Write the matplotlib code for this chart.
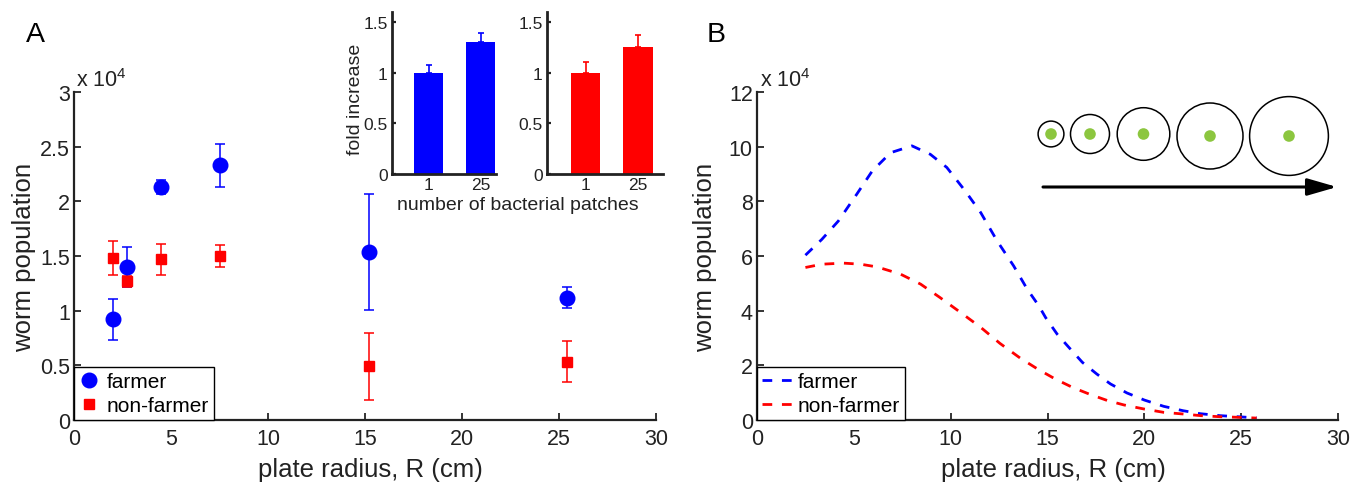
import matplotlib
matplotlib.use("Agg")
import matplotlib.pyplot as plt
from matplotlib.patches import Circle

plt.rcParams['font.family'] = ['Liberation Sans', 'DejaVu Sans']
plt.rcParams['mathtext.default'] = 'regular'

# ================= data (population in units of 1e4) =================
# panel A: measured populations
radius_meas = [2.0, 2.75, 4.5, 7.5, 15.2, 25.4]
farmer_pop = [0.92, 1.40, 2.13, 2.33, 1.54, 1.12]
farmer_err = [0.185, 0.185, 0.065, 0.195, 0.53, 0.10]
nonfarmer_pop = [1.48, 1.27, 1.47, 1.50, 0.49, 0.535]
nonfarmer_err = [0.155, 0.05, 0.14, 0.10, 0.305, 0.19]

# inset: fold increase vs number of bacterial patches
patch_labels = ['1', '25']
farmer_fold = [1.0, 1.3]
farmer_fold_err = [0.08, 0.09]
nonfarmer_fold = [1.0, 1.25]
nonfarmer_fold_err = [0.105, 0.12]

# panel B: model curves
model_r_farmer = [2.5, 3.35, 4.2, 5.15, 5.95, 6.9, 8.0, 8.95, 9.8, 10.75, 11.55,
                  12.4, 13.25, 13.95, 14.55, 14.9, 15.5, 16.1, 16.8, 17.55, 18.25,
                  19.1, 20.0, 21.0, 22.0, 22.9, 23.9, 24.8, 25.8]
model_farmer = [6.03, 6.61, 7.28, 8.26, 9.11, 9.78, 10.03, 9.72, 9.24, 8.38, 7.59,
                6.55, 5.64, 4.79, 4.18, 3.75, 3.14, 2.66, 2.11, 1.68, 1.32,
                0.99, 0.73, 0.50, 0.34, 0.23, 0.16, 0.12, 0.08]
model_r_nonfarmer = [2.5, 3.35, 4.45, 5.35, 6.2, 7.4, 8.45, 9.45, 10.5, 11.55, 12.55,
                     13.6, 14.5, 15.4, 16.3, 17.15, 18.1, 18.95, 20.0, 21.0, 22.0,
                     22.9, 23.9, 24.8, 25.8]
model_nonfarmer = [5.58, 5.70, 5.74, 5.70, 5.60, 5.34, 4.97, 4.48, 3.94, 3.39, 2.80,
                   2.26, 1.86, 1.50, 1.19, 0.95, 0.71, 0.55, 0.40, 0.28, 0.22,
                   0.16, 0.12, 0.10, 0.07]

BLUE = '#0000ff'
RED = '#ff0000'
GREEN = '#8cc63f'
INK = '#222222'
W, H = 1350, 485
TICK_FS = 15.5
LABEL_FS = 18.5


def style_axes(ax, lw=1.6, ticklen=5, fs=TICK_FS, pad_x=6, pad_y=3):
    for s in ['top', 'right']:
        ax.spines[s].set_visible(False)
    for s in ['left', 'bottom']:
        ax.spines[s].set_linewidth(lw)
        ax.spines[s].set_color(INK)
    ax.tick_params(direction='in', length=ticklen, width=lw * 0.8, labelsize=fs,
                   colors=INK, labelcolor=INK)
    ax.tick_params(axis='x', pad=pad_x)
    ax.tick_params(axis='y', pad=pad_y)


def px_axes(fig, x0, y0, x1, y1):
    # axes from a pixel box (origin top-left)
    return fig.add_axes([x0 / W, 1 - y1 / H, (x1 - x0) / W, (y1 - y0) / H])


fig = plt.figure(figsize=(13.5, 4.85), dpi=100)

# ---------------- panel A ----------------
axA = px_axes(fig, 74, 93, 656, 421)
fa = axA.errorbar(radius_meas, farmer_pop, yerr=farmer_err, fmt='o', color=BLUE,
                  ms=10.5, elinewidth=1.1, capsize=3.3, capthick=1.1)
nf = axA.errorbar(radius_meas, nonfarmer_pop, yerr=nonfarmer_err, fmt='s', color=RED,
                  ms=7.5, elinewidth=1.1, capsize=3.3, capthick=1.1)
axA.set_xlim(0, 30)
axA.set_ylim(0, 3)
axA.set_xticks(range(0, 31, 5))
axA.set_yticks([0, 0.5, 1, 1.5, 2, 2.5, 3])
axA.set_yticklabels(['0', '0.5', '1', '1.5', '2', '2.5', '3'])
style_axes(axA)
axA.set_xlabel('plate radius, R (cm)', fontsize=LABEL_FS, color=INK)
axA.set_ylabel('worm population', fontsize=LABEL_FS, color=INK)
axA.xaxis.set_label_coords(0.51, -0.112)
axA.yaxis.set_label_coords(-0.066, 0.5)
axA.annotate('x 10$^4$', xy=(0, 1), xycoords='axes fraction', xytext=(1.5, 4),
             textcoords='offset points', fontsize=TICK_FS, color=INK,
             ha='left', va='baseline')
legA = axA.legend([fa[0], nf[0]], ['farmer', 'non-farmer'], loc='lower left',
                  bbox_to_anchor=(0, 0), borderaxespad=0, fancybox=False,
                  edgecolor='black', framealpha=1, fontsize=15, handlelength=0.9,
                  handletextpad=0.4, labelspacing=0.22, borderpad=0.25)
legA.get_frame().set_linewidth(1.0)

# insets
for (x0, x1, xlim, vals, errs, col) in [
        (392, 496, (0.29, 2.29), farmer_fold, farmer_fold_err, BLUE),
        (547, 663, (0.26, 2.48), nonfarmer_fold, nonfarmer_fold_err, RED)]:
    axi = px_axes(fig, x0, 13, x1, 175)
    pos = [1, 2]
    axi.bar(pos, vals, width=0.56, color=col, zorder=2)
    axi.errorbar(pos, vals, yerr=[[0, 0], errs], fmt='none', ecolor=col,
                 elinewidth=1.2, capsize=2, capthick=1.2, zorder=3)
    axi.set_xlim(*xlim)
    axi.set_ylim(0, 1.6)
    axi.set_xticks(pos)
    axi.set_xticklabels(patch_labels)
    axi.set_yticks([0, 0.5, 1, 1.5])
    axi.set_yticklabels(['0', '0.5', '1', '1.5'])
    style_axes(axi, lw=2.0, ticklen=3, fs=12.5, pad_x=2, pad_y=3)

fig.text(355 / W, 1 - 99 / H, 'fold increase', rotation=90, ha='center',
         va='center', fontsize=14, color=INK)
fig.text(518 / W, 1 - 205 / H, 'number of bacterial patches', ha='center',
         va='center', fontsize=14, color=INK)

# ---------------- panel B ----------------
axB = px_axes(fig, 757, 93, 1338, 421)
axB.plot(model_r_farmer, model_farmer, color=BLUE, lw=2.0, dashes=(3.5, 3.5),
         label='farmer')
axB.plot(model_r_nonfarmer, model_nonfarmer, color=RED, lw=2.0, dashes=(3.5, 3.5),
         label='non-farmer')
axB.set_xlim(0, 30)
axB.set_ylim(0, 12)
axB.set_xticks(range(0, 31, 5))
axB.set_yticks(range(0, 13, 2))
style_axes(axB)
axB.set_xlabel('plate radius, R (cm)', fontsize=LABEL_FS, color=INK)
axB.set_ylabel('worm population', fontsize=LABEL_FS, color=INK)
axB.xaxis.set_label_coords(0.51, -0.112)
axB.yaxis.set_label_coords(-0.069, 0.5)
axB.annotate('x 10$^4$', xy=(0, 1), xycoords='axes fraction', xytext=(2, 4),
             textcoords='offset points', fontsize=TICK_FS, color=INK,
             ha='left', va='baseline')
legB = axB.legend(loc='lower left', bbox_to_anchor=(0, 0), borderaxespad=0,
                  fancybox=False, edgecolor='black', framealpha=1, fontsize=15,
                  handlelength=1.45, handletextpad=0.25, labelspacing=0.22,
                  borderpad=0.25)
legB.get_frame().set_linewidth(1.0)

# illustration: growing plates with a central bacterial patch
axI = px_axes(fig, 1000, 85, 1350, 205)
axI.set_xlim(1000, 1350)
axI.set_ylim(205, 85)
axI.axis('off')
plates = [(1051, 135, 12.9), (1090, 135, 19.5), (1143.5, 135, 26.3),
          (1210, 137, 33), (1289, 137, 39.4)]
for cx, cy, r in plates:
    axI.add_patch(Circle((cx, cy), r, fill=False, ec='black', lw=1.1))
    axI.add_patch(Circle((cx, cy), 5.8, color=GREEN, ec='none'))
axI.annotate('', xy=(1337, 188), xytext=(1043, 188),
             arrowprops=dict(arrowstyle='-|>,head_length=0.9,head_width=0.26',
                             mutation_scale=20, lw=2.2, color='black',
                             shrinkA=0, shrinkB=0))

# panel letters
fig.text(26 / W, 1 - 22 / H, 'A', fontsize=20.5, ha='left', va='top')
fig.text(707 / W, 1 - 22 / H, 'B', fontsize=20.5, ha='left', va='top')

fig.savefig('out.png', dpi=100)
